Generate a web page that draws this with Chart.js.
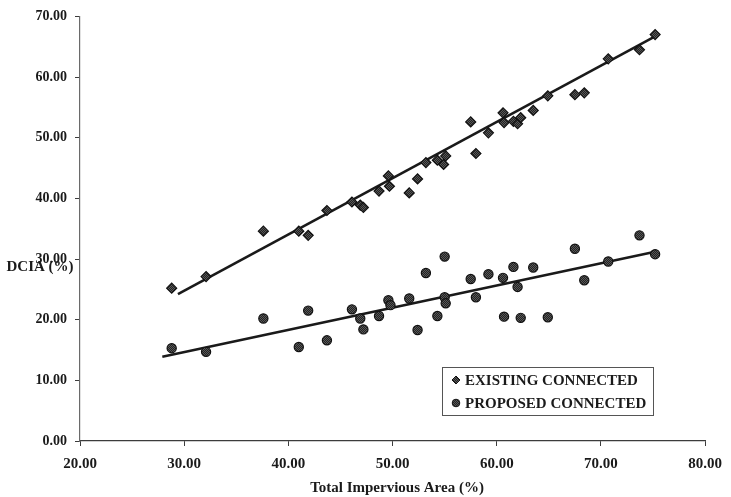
<!DOCTYPE html>
<html>
<head>
<meta charset="utf-8">
<script src="https://cdn.jsdelivr.net/npm/chart.js@4"></script>
<style>
	body { margin: 0; background: #fff; }
	canvas { display: block; }
</style>
</head>
<body>
<canvas id="scatter" width="731" height="497"></canvas>
<script>
// total impervious area (%) for each basin
const existingX = [28.8, 32.1, 37.6, 41.0, 41.9, 43.7, 46.1, 46.9, 47.2, 48.7, 49.6, 49.7, 51.6, 52.4, 53.2, 54.3, 55.1, 54.9, 57.5, 58.0, 59.2, 60.6, 60.7, 61.6, 62.0, 62.3, 63.5, 64.9, 67.5, 68.4, 70.7, 73.7, 75.2];
const existingY = [25.2, 27.1, 34.6, 34.6, 33.9, 38.0, 39.4, 38.9, 38.5, 41.2, 43.7, 42.0, 40.9, 43.2, 45.9, 46.3, 47.0, 45.6, 52.6, 47.4, 50.8, 54.1, 52.5, 52.7, 52.3, 53.3, 54.5, 56.9, 57.1, 57.4, 63.0, 64.5, 67.0];

const proposedX = [28.8, 32.1, 37.6, 41.0, 41.9, 43.7, 46.1, 46.9, 47.2, 48.7, 49.6, 49.8, 51.6, 52.4, 53.2, 54.3, 55.0, 55.0, 55.1, 57.5, 58.0, 59.2, 60.6, 60.7, 61.6, 62.0, 62.3, 63.5, 64.9, 67.5, 68.4, 70.7, 73.7, 75.2];
const proposedY = [15.3, 14.7, 20.2, 15.5, 21.5, 16.6, 21.7, 20.2, 18.4, 20.6, 23.2, 22.4, 23.5, 18.3, 27.7, 20.6, 30.4, 23.7, 22.7, 26.7, 23.7, 27.5, 26.9, 20.5, 28.7, 25.4, 20.3, 28.6, 20.4, 31.7, 26.5, 29.6, 33.9, 30.8];

// fitted lines, end points
const existingFitX = [29.4, 75.2];
const existingFitY = [24.2, 66.7];
const proposedFitX = [27.9, 75.2];
const proposedFitY = [13.9, 31.2];

const xTicks = [20, 30, 40, 50, 60, 70, 80];
const yTicks = [0, 10, 20, 30, 40, 50, 60, 70];

const seriesNames = ["EXISTING CONNECTED", "PROPOSED CONNECTED"];

const FONT = "'Liberation Serif', 'Times New Roman', serif";
const INK = "#1a1a1a";

const toPoints = (xs, ys) => xs.map((x, i) => ({ x: x, y: ys[i] }));

// grainy fill like the photocopied markers
function markerFill() {
	const c = document.createElement("canvas");
	c.width = 2;
	c.height = 2;
	const g = c.getContext("2d");
	g.fillStyle = "#222";
	g.fillRect(0, 0, 2, 2);
	g.fillStyle = "#585858";
	g.fillRect(0, 0, 1, 1);
	g.fillRect(1, 1, 1, 1);
	return g.createPattern(c, "repeat");
}
const grain = markerFill();

const captions = {
	id: "captions",
	afterDraw(chart) {
		const ctx = chart.ctx;
		ctx.save();
		ctx.fillStyle = INK;
		ctx.font = "bold 15px " + FONT;
		ctx.textAlign = "center";
		ctx.textBaseline = "middle";
		ctx.fillText("DCIA (%)", 40, 267);
		ctx.fillText("Total Impervious Area (%)", 397, 488);

		// legend box
		ctx.strokeStyle = "#555";
		ctx.lineWidth = 1;
		ctx.strokeRect(442.5, 367.5, 211, 48);
		ctx.textAlign = "left";
		ctx.font = "bold 15px " + FONT;
		const rows = [380, 403];
		rows.forEach((y, i) => {
			ctx.fillStyle = grain;
			ctx.strokeStyle = "#111";
			ctx.beginPath();
			if (i == 0) {
				ctx.moveTo(456, y - 4);
				ctx.lineTo(460, y);
				ctx.lineTo(456, y + 4);
				ctx.lineTo(452, y);
				ctx.closePath();
			} else {
				ctx.arc(456, y, 3.8, 0, Math.PI * 2);
			}
			ctx.fill();
			ctx.stroke();
			ctx.fillStyle = INK;
			ctx.fillText(seriesNames[i], 465, y + 1);
		});
		ctx.restore();
	}
};

const config = {
	type: "scatter",
	data: {
		datasets: [
			{
				label: seriesNames[0],
				data: toPoints(existingX, existingY),
				pointStyle: "rectRot",
				pointRadius: 5,
				backgroundColor: grain,
				borderColor: "#111",
				borderWidth: 1.2
			},
			{
				label: seriesNames[1],
				data: toPoints(proposedX, proposedY),
				pointStyle: "circle",
				pointRadius: 4.6,
				backgroundColor: grain,
				borderColor: "#111",
				borderWidth: 1.2
			},
			{
				data: toPoints(existingFitX, existingFitY),
				showLine: true,
				pointRadius: 0,
				borderColor: "#1a1a1a",
				borderWidth: 2.6
			},
			{
				data: toPoints(proposedFitX, proposedFitY),
				showLine: true,
				pointRadius: 0,
				borderColor: "#1a1a1a",
				borderWidth: 2.6
			}
		]
	},
	options: {
		responsive: false,
		animation: false,
		layout: {
			padding: { top: 16, right: 18, left: 0, bottom: 0 }
		},
		plugins: {
			legend: { display: false },
			tooltip: { enabled: false }
		},
		scales: {
			x: {
				type: "linear",
				min: 20,
				max: 80,
				afterFit: (scale) => {
					scale.height = 56;
				},
				afterBuildTicks: (scale) => {
					scale.ticks = xTicks.map((v) => ({ value: v }));
				},
				border: { color: "#3c3c3c", width: 1.2 },
				grid: { drawOnChartArea: false, tickLength: 5, color: "#3c3c3c" },
				ticks: {
					padding: 9,
					maxRotation: 0,
					color: INK,
					font: { family: FONT, size: 15, weight: "bold" },
					callback: (v) => v.toFixed(2)
				}
			},
			y: {
				min: 0,
				max: 70,
				afterFit: (scale) => {
					scale.width = 80;
				},
				afterBuildTicks: (scale) => {
					scale.ticks = yTicks.map((v) => ({ value: v }));
				},
				border: { color: "#6a6a6a", width: 1.2 },
				grid: { drawOnChartArea: false, tickLength: 5, color: "#3c3c3c" },
				ticks: {
					padding: 8,
					color: INK,
					font: { family: FONT, size: 14, weight: "bold" },
					callback: (v) => v.toFixed(2)
				}
			}
		}
	},
	plugins: [captions]
};

new Chart(document.getElementById("scatter"), config);
</script>
</body>
</html>
